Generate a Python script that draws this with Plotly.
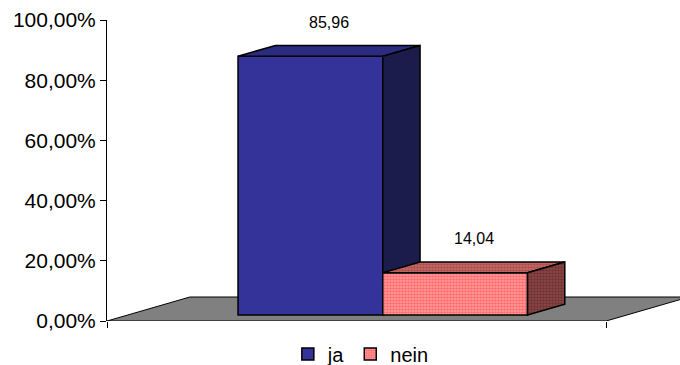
import plotly.graph_objects as go

# Survey answers (percent)
categories = ["ja", "nein"]
values = [85.96, 14.04]

# Percentage axis
y_ticks = [0, 20, 40, 60, 80, 100]
y_tick_labels = ["0,00%", "20,00%", "40,00%", "60,00%", "80,00%", "100,00%"]

# Pseudo-3D geometry in axis units
X_MAX = 1.148           # x range; the category spans [0, 1]
BAR_LEFT = 0.221        # left edge of the first bar (unshifted)
BAR_W = 0.29            # bar width in category units
DX, DY = 0.166, 7.97    # floor depth vector in (x units, percent)
Z0, Z1 = 0.25, 0.70     # front / back depth of the bars

front_colors = ["#333399", None]
top_colors = ["#2b2b80", None]
side_colors = ["#1c1c4c", None]

PINK_FRONT = dict(shape=".", fgcolor="#ff3030", bgcolor="#ffa4a4", size=3, solidity=0.6)
PINK_TOP = dict(shape=".", fgcolor="#8f2c2c", bgcolor="#c86e6e", size=3, solidity=0.6)
PINK_SIDE = dict(shape=".", fgcolor="#521a1a", bgcolor="#8e4a4a", size=3, solidity=0.6)

FONT = "Liberation Sans, Arial, sans-serif"


def proj(x, v, z):
    return x + DX * z, v + DY * z


fig = go.Figure()

for i, (name, v) in enumerate(zip(categories, values)):
    xa, ya = ("x", "y") if i == 0 else ("x2", "y2")
    xl = BAR_LEFT + i * BAR_W
    xr = xl + BAR_W
    xc = (xl + xr) / 2
    label = f"{v:.2f}".replace(".", ",")
    bar_marker = dict(color=front_colors[i] or "#ffa4a4",
                      line=dict(color="black", width=1.5))
    if i == 1:
        bar_marker["pattern"] = PINK_FRONT
    fig.add_trace(go.Bar(
        x=[xc + DX * Z0], y=[v], base=[DY * Z0], width=[BAR_W],
        name=name, marker=bar_marker, xaxis=xa, yaxis=ya,
        hovertemplate=f"{name}: {label}%<extra></extra>",
    ))

    # top face
    p1 = proj(xl, v, Z0); p2 = proj(xr, v, Z0)
    p3 = proj(xr, v, Z1); p4 = proj(xl, v, Z1)
    top = dict(x=[p1[0], p2[0], p3[0], p4[0], p1[0]],
               y=[p1[1], p2[1], p3[1], p4[1], p1[1]])
    # right side face
    q1 = proj(xr, v, Z0); q2 = proj(xr, v, Z1)
    q3 = proj(xr, 0, Z1); q4 = proj(xr, 0, Z0)
    side = dict(x=[q1[0], q2[0], q3[0], q4[0], q1[0]],
                y=[q1[1], q2[1], q3[1], q4[1], q1[1]])

    for face, col, pat in ((top, top_colors[i], PINK_TOP), (side, side_colors[i], PINK_SIDE)):
        kw = dict(fill="toself", mode="lines",
                  line=dict(color="black", width=1.5),
                  showlegend=False, hoverinfo="skip", xaxis=xa, yaxis=ya)
        if col:
            kw["fillcolor"] = col
        else:
            kw["fillpattern"] = pat
        fig.add_trace(go.Scatter(**face, **kw))

    # value label above the box
    lx, _ = proj(xc, v, (Z0 + Z1) / 2)
    fig.add_annotation(
        x=lx, y=v + DY * Z1, xref="x", yref="y",
        text=label, showarrow=False,
        yanchor="middle", yshift=23,
        font=dict(family=FONT, size=16, color="black"),
    )

# grey floor
fx = [0, 1, 1 + DX, DX]
fy = [0, 0, DY, DY]
path = "M " + " L ".join(f"{a},{b}" for a, b in zip(fx, fy)) + " Z"
fig.add_shape(type="path", path=path, xref="x", yref="y", layer="below",
              fillcolor="#808080", line=dict(color="black", width=1))

axis_common = dict(showgrid=False, zeroline=False)
fig.update_layout(
    width=680, height=365,
    margin=dict(l=107, r=0, t=20, b=44, autoexpand=False),
    paper_bgcolor="white", plot_bgcolor="white",
    barmode="overlay",
    font=dict(family=FONT, color="black"),
    xaxis=dict(range=[0, X_MAX], tickvals=[0, 1], ticks="outside", ticklen=6,
               tickcolor="black", showticklabels=False, showline=False, **axis_common),
    yaxis=dict(range=[0, 100], tickvals=y_ticks, ticktext=y_tick_labels,
               ticks="outside", ticklen=6, tickcolor="black",
               showline=True, linecolor="black", linewidth=1,
               tickfont=dict(family=FONT, size=21, color="black"), **axis_common),
    xaxis2=dict(range=[0, X_MAX], overlaying="x", visible=False, **axis_common),
    yaxis2=dict(range=[0, 100], overlaying="y", visible=False, **axis_common),
    legend=dict(orientation="h", x=0.443, xanchor="center", y=-0.11, yanchor="middle",
                font=dict(family=FONT, size=20, color="black"),
                itemwidth=30, bgcolor="rgba(0,0,0,0)"),
    showlegend=True,
)

fig.write_html("out.html")
